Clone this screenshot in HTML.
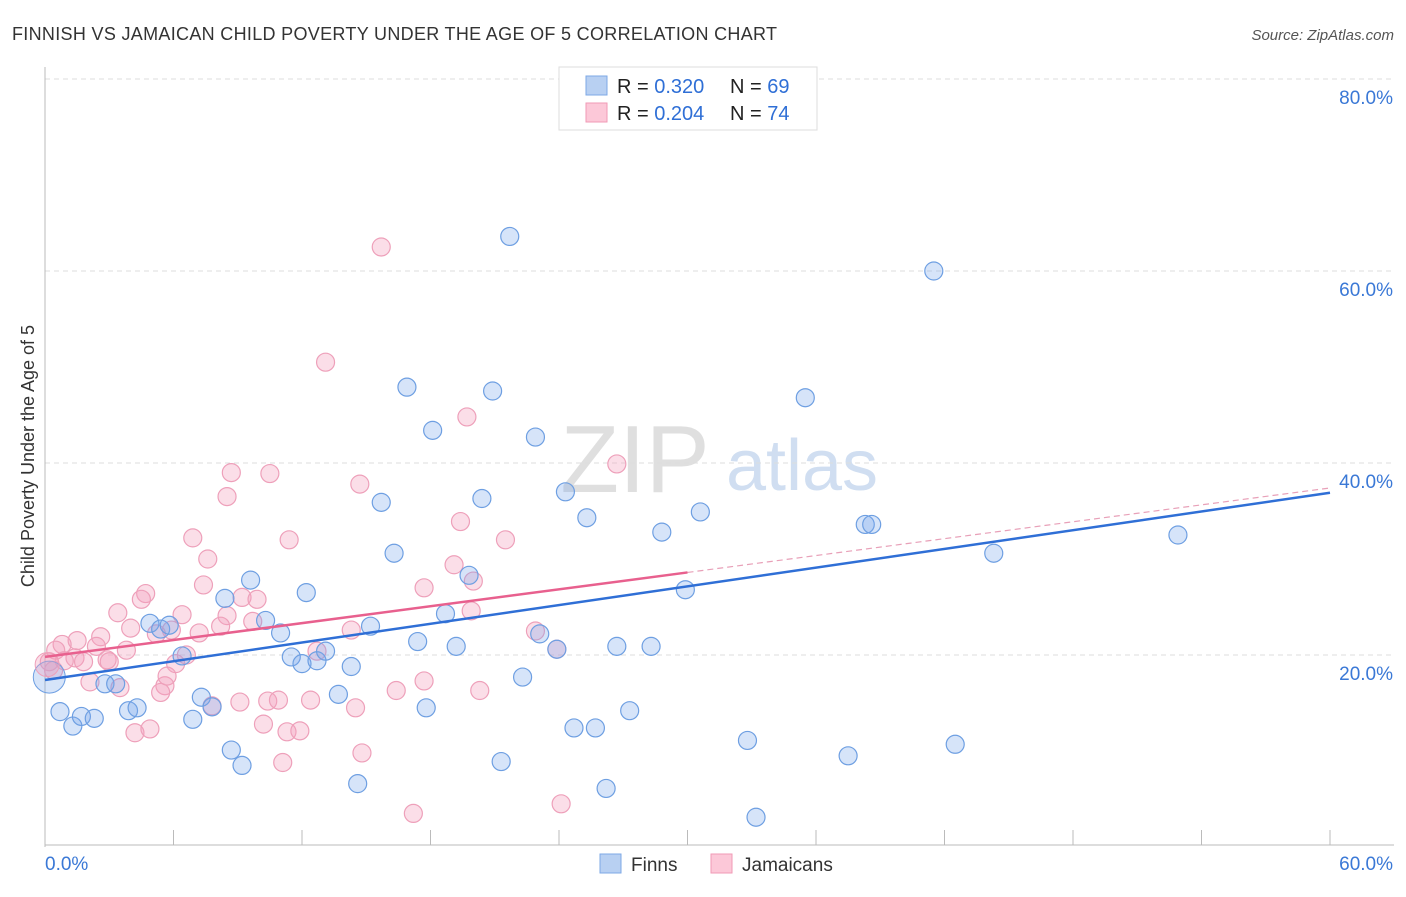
<!DOCTYPE html>
<html><head><meta charset="utf-8"><style>
body{margin:0;background:#fff;font-family:"Liberation Sans",sans-serif;}
svg text{font-family:"Liberation Sans",sans-serif;}
</style></head><body>
<svg id="chart" width="1406" height="892">
<text x="12" y="40" font-size="18" fill="#333" textLength="765" lengthAdjust="spacing">FINNISH VS JAMAICAN CHILD POVERTY UNDER THE AGE OF 5 CORRELATION CHART</text>
<text x="1394" y="40" font-size="15" fill="#555" font-style="italic" text-anchor="end">Source: ZipAtlas.com</text>
<text transform="translate(34,456) rotate(-90)" font-size="18" fill="#333" text-anchor="middle">Child Poverty Under the Age of 5</text>
<g>
<text x="635" y="492" font-size="96" fill="#d8d8d8" font-family="Liberation Serif" text-anchor="middle" opacity="0.8">ZIP</text>
<text x="802" y="490" font-size="72" fill="#c5d7ee" text-anchor="middle" opacity="0.8">atlas</text>
</g>
<g id="grid"></g><g id="axes"></g><g id="marks"></g>
<g>
<rect x="559" y="67" width="258" height="63" fill="#fff" stroke="#ddd"/>
<rect x="586" y="76" width="21" height="19" fill="#b8d0f2" stroke="#7ea8e6"/>
<rect x="586" y="103" width="21" height="19" fill="#fcc8d8" stroke="#f09ab6"/>
<text x="617" y="93" font-size="20" fill="#222">R = <tspan fill="#2f6fd6">0.320</tspan></text>
<text x="730" y="93" font-size="20" fill="#222">N = <tspan fill="#2f6fd6">69</tspan></text>
<text x="617" y="120" font-size="20" fill="#222">R = <tspan fill="#2f6fd6">0.204</tspan></text>
<text x="730" y="120" font-size="20" fill="#222">N = <tspan fill="#2f6fd6">74</tspan></text>
</g>
<g>
<rect x="600" y="854" width="21" height="19" fill="#b8d0f2" stroke="#7ea8e6"/>
<text x="631" y="871" font-size="19" fill="#333">Finns</text>
<rect x="711" y="854" width="21" height="19" fill="#fcc8d8" stroke="#f09ab6"/>
<text x="742" y="871" font-size="19" fill="#333">Jamaicans</text>
</g>
</svg>
<script>
const yTicks=[20,40,60,80];
const yTickLabels=["20.0%","40.0%","60.0%","80.0%"];
const xTickLabels=["0.0%","60.0%"];
const finnsX=[21.7,41.5,16.9,20.9,35.5,18.1,22.9,24.3,15.7,20.4,25.3,30.6,28.8,38.3,38.6,16.3,44.3,52.9,9.6,8.4,12.2,19.8,29.9,18.7,10.3,4.9,5.4,5.8,11.0,15.2,23.1,17.4,19.2,23.9,26.7,28.3,6.4,11.5,12.0,12.7,13.1,14.3,22.3,2.8,3.3,0.7,1.3,1.7,2.3,3.9,4.3,6.9,7.3,7.8,13.7,17.8,27.3,24.7,25.7,32.8,37.5,42.5,8.7,9.2,21.3,14.6,26.2,33.2];
const finnsY=[63.6,60.0,47.9,47.5,46.8,43.4,42.7,37.0,35.9,36.3,34.3,34.9,32.8,33.6,33.6,30.6,30.6,32.5,27.8,25.9,26.5,28.3,26.8,24.3,23.6,23.3,22.7,23.1,22.3,23.0,22.2,21.4,20.9,20.6,20.9,20.9,19.9,19.8,19.1,19.4,20.4,18.8,17.7,17.0,17.0,14.1,12.6,13.6,13.4,14.2,14.5,13.3,15.6,14.6,15.9,14.5,14.2,12.4,12.4,11.1,9.5,10.7,10.1,8.5,8.9,6.6,6.1,3.1];
const jamX=[15.7,13.1,19.7,26.7,8.7,10.5,14.7,8.5,19.4,6.9,11.4,21.5,7.6,19.1,20.0,7.4,4.7,4.5,9.2,9.9,17.7,3.4,6.4,8.5,19.9,4.0,5.9,5.2,7.2,8.2,9.7,14.3,22.9,2.6,1.5,0.8,0.5,2.4,3.8,1.4,0.9,0.2,1.8,2.9,6.6,12.7,23.9,6.1,5.6,5.4,2.1,3.5,5.7,7.8,9.1,10.4,10.9,12.4,14.5,16.4,17.7,20.3,10.2,11.3,11.9,4.2,4.9,14.8,11.1,17.2,24.1,3.0,0.4];
const jamY=[62.5,50.5,44.8,39.9,39.0,38.9,37.8,36.5,33.9,32.2,32.0,32.0,30.0,29.4,27.7,27.3,26.4,25.8,26.0,25.8,27.0,24.4,24.2,24.1,24.6,22.8,22.6,22.2,22.3,23.0,23.5,22.6,22.5,21.9,21.5,21.1,20.5,20.9,20.5,19.7,19.4,19.3,19.3,19.5,20.0,20.4,20.6,19.1,16.8,16.1,17.2,16.6,17.8,14.7,15.1,15.2,15.3,15.3,14.5,16.3,17.3,16.3,12.8,12.0,12.1,11.9,12.3,9.8,8.8,3.5,4.5,19.3,18.4];
const bigFinn=[0.2,17.7], bigJam=[0.1,19.0];
const finnsTrend=[17.4,36.9];
const jamTrend=[19.8,37.4];
const NS="http://www.w3.org/2000/svg";
const X0=45,X1=1330,YB=847,YT=79;
const sx=v=>X0+(X1-X0)*v/60;
const sy=v=>YB-(YB-YT)*v/80;
function mk(tag,attrs,parent){const e=document.createElementNS(NS,tag);for(const k in attrs)e.setAttribute(k,attrs[k]);parent.appendChild(e);return e;}
const grid=document.getElementById('grid'),axes=document.getElementById('axes'),marks=document.getElementById('marks');
yTicks.forEach((t,i)=>{
 const l=mk('line',{x1:X0,x2:1394,y1:sy(t),y2:sy(t),stroke:'#ddd','stroke-dasharray':'5,4'},grid);
 
 
 const tx=mk('text',{x:1393,y:sy(t)+25,'font-size':19,fill:'#3a78d6','text-anchor':'end'},axes);
 tx.textContent=yTickLabels[i];
 
 
});
const ax=mk('line',{x1:X0,x2:X0,y1:67,y2:YB,stroke:'#bbb'},axes);


const bx=mk('line',{x1:X0,x2:1394,y1:845,y2:845,stroke:'#bbb'},axes);


for(let i=0;i<=10;i++){const t=mk('line',{x1:sx(i*6),x2:sx(i*6),y1:830,y2:845,stroke:'#bbb'},axes);
 
 }
[[0,X0+0,'start'],[1,1393,'end']].forEach(([i,x,a])=>{const t=mk('text',{x:x,y:870,'font-size':19,fill:'#3a78d6','text-anchor':a},axes);t.textContent=xTickLabels[i];
 
 });
function dots(xs,ys,fill,stroke,name){xs.forEach((x,i)=>{const c=mk('circle',{cx:sx(x),cy:sy(ys[i]),r:9,fill:fill,stroke:stroke,'stroke-width':1.2},marks);
 
 });}
dots(jamX,jamY,'rgba(244,160,188,0.35)','#eea0ba','jamaicans-point');
dots(finnsX,finnsY,'rgba(120,165,235,0.3)','#6e9fe2','finns-point');
const b1=mk('circle',{cx:sx(bigFinn[0]),cy:sy(bigFinn[1]),r:16,fill:'rgba(120,165,235,0.3)',stroke:'#6e9fe2'},marks);


const b2=mk('circle',{cx:sx(bigJam[0]),cy:sy(bigJam[1]),r:12,fill:'rgba(244,160,188,0.35)',stroke:'#eea0ba'},marks);


const jl=mk('line',{x1:sx(0),y1:sy(jamTrend[0]),x2:sx(30),y2:sy(jamTrend[0]+(jamTrend[1]-jamTrend[0])/2),stroke:'#e8608e','stroke-width':2.5},marks);


const jd=mk('line',{x1:sx(30),y1:sy(jamTrend[0]+(jamTrend[1]-jamTrend[0])/2),x2:sx(60),y2:sy(jamTrend[1]),stroke:'#e8a0b8','stroke-width':1.2,'stroke-dasharray':'6,4'},marks);


const fl=mk('line',{x1:sx(0),y1:sy(finnsTrend[0]),x2:sx(60),y2:sy(finnsTrend[1]),stroke:'#2f6fd6','stroke-width':2.5},marks);


</script>
</body></html>
